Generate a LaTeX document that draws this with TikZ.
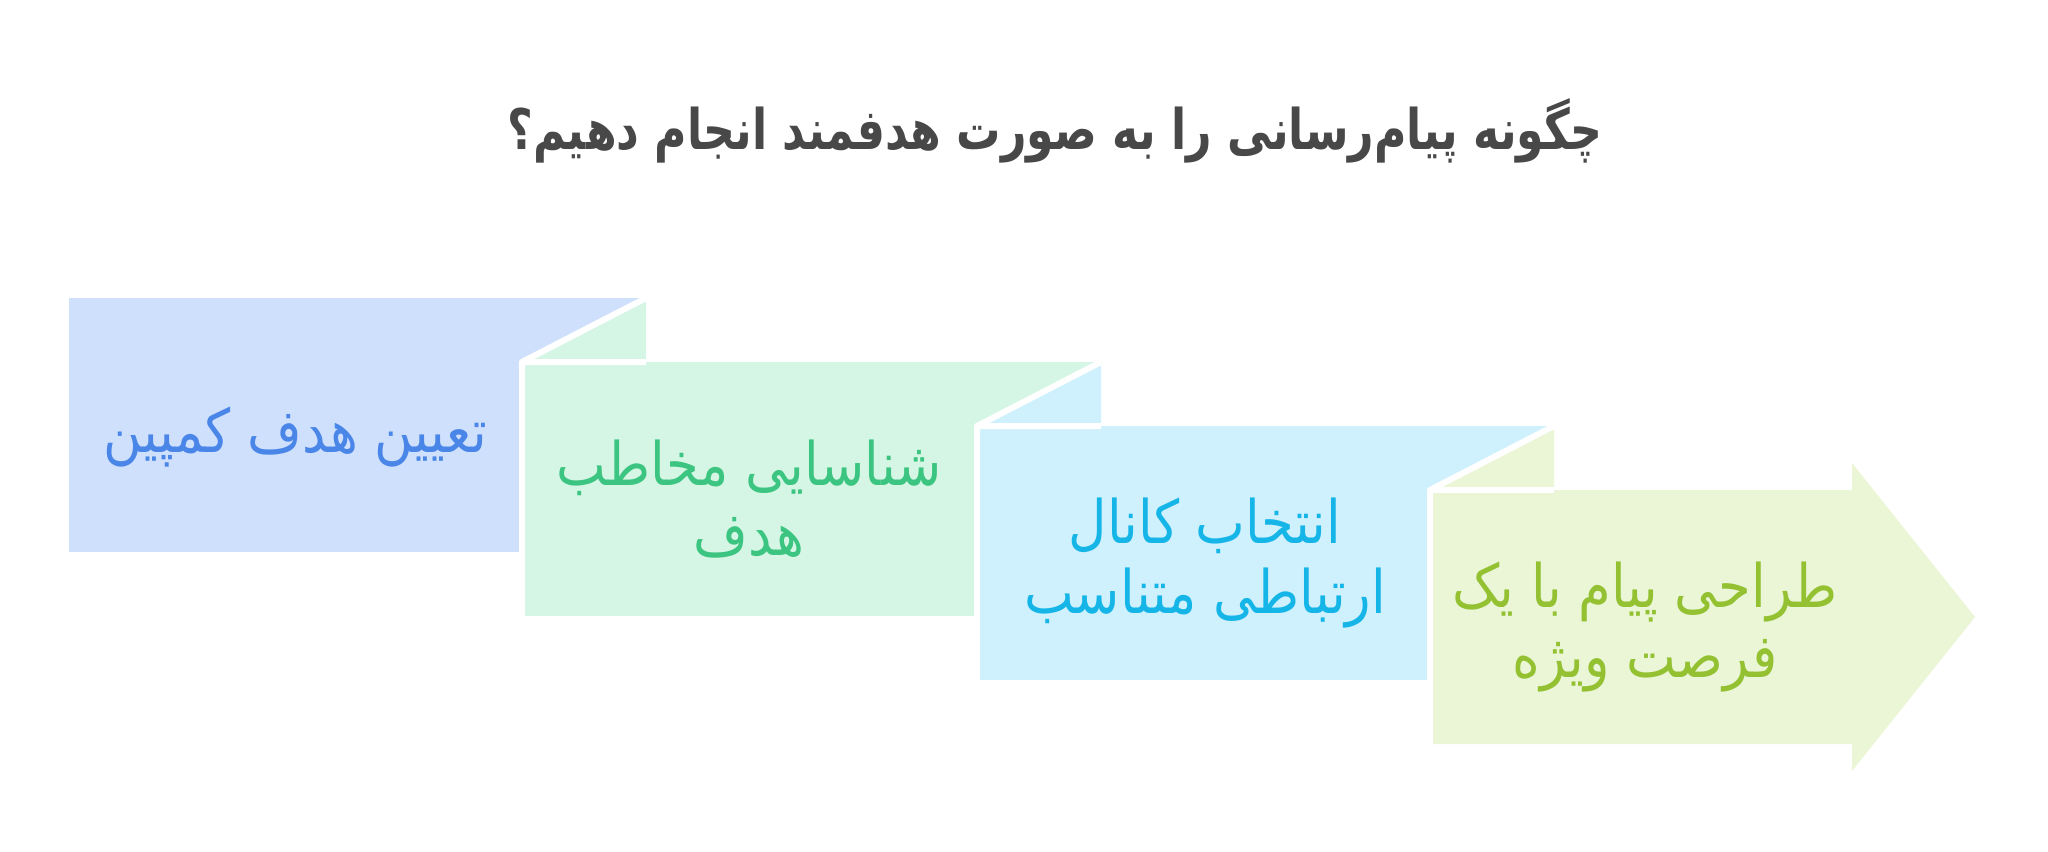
\documentclass[tikz,border=0pt]{standalone}
\usepackage{fontspec}
\usepackage{tikz}
\newfontfamily\persianfont[Script=Arabic,FakeStretch=0.88]{DejaVu Sans}
\newfontfamily\titlefont[Script=Arabic,FakeStretch=0.79]{DejaVu Sans Bold}
\TeXXeTstate=1

\tikzset{
  fold line/.style={draw=white, line width=3pt, line join=round},
  step text/.style={font=\persianfont\fontsize{30}{35}\selectfont, align=center, inner sep=0.75pt},
}

\begin{document}
\begin{tikzpicture}[x=0.5pt,y=0.5pt,yscale=-1,xscale=1]
%set diagram size 2048 x 851
\path [use as bounding box] (0,0) rectangle (2048,851);

%Shape: Rectangle [step 1]
\fill [color={rgb, 255:red, 207; green, 224; blue, 253 }] (69,298) rectangle (646,552) ;
%Shape: Flap [step 2]
\fill [color={rgb, 255:red, 213; green, 245; blue, 229 }] (522,362) -- (646,298) -- (646,362) -- cycle ;
%Shape: Rectangle [step 2]
\fill [color={rgb, 255:red, 213; green, 245; blue, 229 }] (522,362) rectangle (1101,616) ;
\draw [fold line] (646,362) -- (522,362) -- (646,298) (522,362) -- (522,616) ;
%Shape: Flap [step 3]
\fill [color={rgb, 255:red, 206; green, 241; blue, 253 }] (977,426) -- (1101,362) -- (1101,426) -- cycle ;
%Shape: Rectangle [step 3]
\fill [color={rgb, 255:red, 206; green, 241; blue, 253 }] (977,426) rectangle (1554,680) ;
\draw [fold line] (1101,426) -- (977,426) -- (1101,362) (977,426) -- (977,680) ;
%Shape: Flap [step 4]
\fill [color={rgb, 255:red, 234; green, 246; blue, 213 }] (1430,490) -- (1554,426) -- (1554,490) -- cycle ;
%Shape: Arrow [step 4]
\fill [color={rgb, 255:red, 234; green, 246; blue, 213 }] (1430,490) -- (1852,490) -- (1852,463) -- (1975,617) -- (1852,771) -- (1852,744) -- (1430,744) -- cycle ;
\draw [fold line] (1554,490) -- (1430,490) -- (1554,426) (1430,490) -- (1430,744) ;

% Text Node
\draw (1055,131) node (title) [inner sep=0.75pt, color={rgb, 255:red, 72; green, 72; blue, 72 }, font=\titlefont\fontsize{28}{34}\selectfont] {\beginR چگونه پیام‌رسانی را به صورت هدفمند انجام دهیم؟\endR};
% Text Node
\draw (295,437) node (step1) [step text, color={rgb, 255:red, 74; green, 134; blue, 232 }] {\beginR تعیین هدف کمپین\endR};
% Text Node
\draw (749,499) node (step2) [step text, color={rgb, 255:red, 60; green, 197; blue, 128 }] {\beginR شناسایی مخاطب\endR\\\beginR هدف\endR};
% Text Node
\draw (1205,563) node (step3) [step text, color={rgb, 255:red, 22; green, 181; blue, 232 }] {\beginR انتخاب کانال\endR\\\beginR ارتباطی متناسب\endR};
% Text Node
\draw (1645,627) node (step4) [step text, color={rgb, 255:red, 147; green, 193; blue, 50 }] {\beginR طراحی پیام با یک\endR\\\beginR فرصت ویژه\endR};

\end{tikzpicture}
\end{document}
